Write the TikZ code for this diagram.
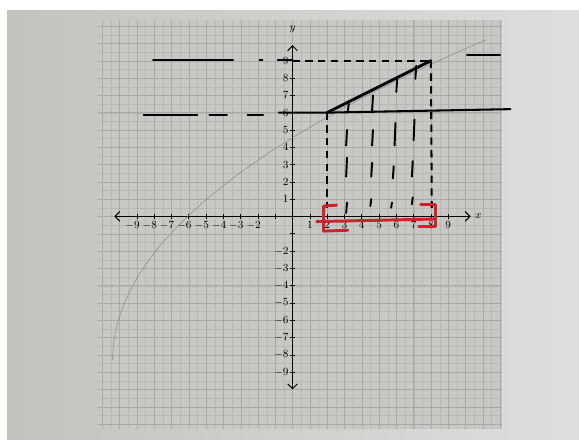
\documentclass[tikz,border=0pt]{standalone}
\usetikzlibrary{arrows.meta}
\definecolor{paperleft}{RGB}{196,194,189}
\definecolor{paperright}{RGB}{222,222,221}
\definecolor{gridbg}{RGB}{200,200,197}
\definecolor{gridline}{RGB}{184,184,181}
\definecolor{penred}{RGB}{205,35,45}
\definecolor{curvegray}{RGB}{135,135,135}

\begin{document}
\begin{tikzpicture}[
		x=0.5cm, y=0.5cm,
		axis/.style={thick, {Straight Barb[length=4pt,width=8pt]}-{Straight Barb[length=4pt,width=8pt]}},
		ticklabel/.style={font=\small, inner sep=1pt},
		pen/.style={line width=1.7pt, line cap=round},
		dashpen/.style={line width=1.7pt, dash pattern=on 6pt off 4.5pt},
		hatch/.style={line width=1.6pt, line cap=round},
		redpen/.style={draw=penred, line width=2.4pt, line cap=round, line join=round}
		]
		\useasboundingbox[fill=white] (-16.91,-12.92) rectangle (16.56,12.51);
		% photographed sheet and graph paper
		\shade[left color=paperleft, right color=paperright] (-16.5,-12.92) rectangle (16.56,11.88);
		\fill[gridbg] (-11.24,-12.3) rectangle (12.1,11.36);
		\draw[gridline, ultra thin, step=0.5] (-11.24,-12.3) grid (12.1,11.36);
		\draw[gridline!92!black, very thin, step=1] (-11.24,-12.3) grid (12.1,11.36);
		% axes
		\coordinate (xl) at (-10.3,0);
		\coordinate (xr) at (10.3,0);
		\coordinate (yb) at (0,-10);
		\coordinate (yt) at (0,9.9);
		\draw[axis] (xl) -- (xr) node[right, font=\small\itshape] (xlab) {$x$};
		\draw[axis] (yb) -- (yt);
		\node[font=\small] (ylab) at (0,10.8) {$y$};
		\foreach \i in {-9,...,9} {
			\draw[thin] (\i,-0.15) -- (\i,0.15);
			\draw[thin] (-0.15,\i) -- (0.15,\i);
		}
		\foreach \i in {-9,...,-2,1,2,...,9} {
			\node[ticklabel, below left] (xt\i) at (\i+0.25,-0.2) {$\i$};
			\node[ticklabel, left] (yt\i) at (-0.15,\i) {$\i$};
		}
		% the curve
		\draw[curvegray, thin, domain=-8.3:10.2, samples=60, variable=\t]
			plot ({0.063*(\t+8.3)^2-10.4}, \t);
		% pen work
		\coordinate (A) at (2,6);
		\coordinate (B) at (8,9);
		\coordinate (A0) at (2,0.5);
		\coordinate (B0) at (8.05,0.5);
		\coordinate (top0) at (0,9);
		\draw[dashpen] (top0) -- (B);
		\foreach \a/\b in {-8.06/-3.44, -1.9/-1.75, -0.85/0} \draw[pen] (\a,9.02) -- (\b,9.02);
		\draw[pen] (10.1,9.35) -- (12.0,9.35);
		\foreach \a/\b in {-8.6/-5.5, -4.8/-3.8, -2.6/-1.7} \draw[pen] (\a,5.85) -- (\b,5.85);
		\draw[pen] (-0.8,6) -- (A) -- (12.6,6.2);
		\draw[pen, line width=2.4pt] (A) -- (B);
		\draw[dashpen] (A) -- (A0);
		\draw[dashpen] (B) -- (B0);
		% shading strokes
		\foreach \x/\a/\b in {3.2/6.05/6.55, 4.6/6.1/7.0, 6.0/7.2/8.0, 7.1/7.95/8.7,
			3.1/4.1/5.0, 3.1/2.3/3.4, 3.1/0.2/0.8,
			4.6/4.1/5.0, 4.55/2.3/3.1, 4.5/0.6/1.0,
			5.9/4.1/5.4, 5.8/2.2/2.9, 5.7/0.5/0.8,
			7.0/4.4/5.6, 6.9/2.3/3.2, 6.9/0.7/1.1}
			\draw[hatch] (\x,\a) -- (\x+0.05,\b);
		% the interval [2,8]
		\draw[redpen] (2.55,0.65) -- (1.8,0.6) -- (1.8,-0.85) -- (3.2,-0.8);
		\draw[redpen] (7.4,0.7) -- (8.25,0.7) -- (8.25,-0.6) -- (7.3,-0.6);
		\draw[redpen] (1.4,-0.3) -- (8.25,-0.15);
	\end{tikzpicture}
\end{document}
